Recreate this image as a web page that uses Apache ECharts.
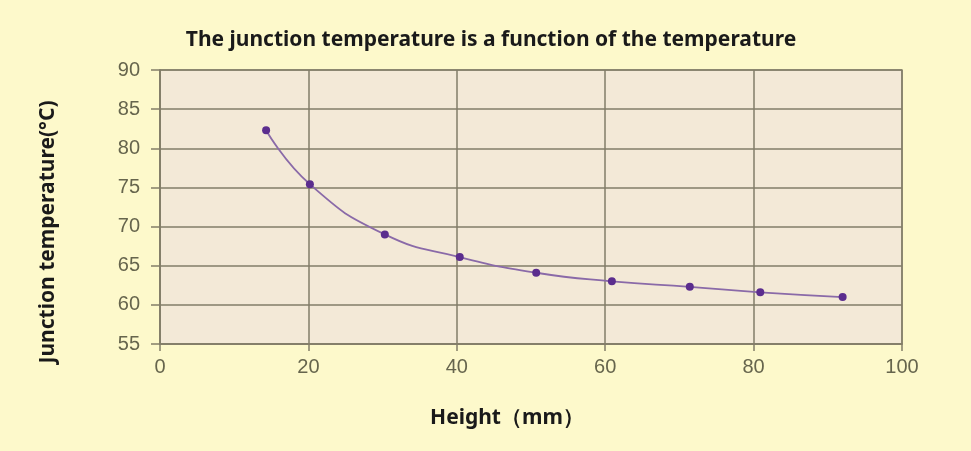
<!DOCTYPE html>
<html>
<head>
<meta charset="utf-8">
<script src="https://cdn.jsdelivr.net/npm/echarts@6/dist/echarts.min.js"></script>
<style>
html,body{margin:0;padding:0;background:#fdf9cb;}
#c{width:971px;height:451px;}
</style>
</head>
<body>
<div id="c"></div>
<script>
const heights = [14.3, 20.2, 30.3, 40.4, 50.7, 60.9, 71.4, 80.9, 92.0];
const junctionTemps = [82.3, 75.4, 69.0, 66.1, 64.1, 63.0, 62.3, 61.6, 61.0];
const xTicks = [0, 20, 40, 60, 80, 100];
const yTicks = [55, 60, 65, 70, 75, 80, 85, 90];
const titleText = 'The junction temperature is a function of the temperature';
const xName = 'Height（mm）';
const yName = 'Junction temperature(°C)';

const chart = echarts.init(document.getElementById('c'));
const gridColor = '#827d68';
const labelColor = '#66654d';
const nameStyle = {fontFamily: 'Noto Sans', fontWeight: 'bold', fontSize: 21, fill: '#1a1a1a'};
chart.setOption({
  backgroundColor: '#fdf9cb',
  animation: false,
  title: {
    text: titleText,
    left: 486, top: 25, textAlign: 'center',
    textStyle: {fontFamily: 'Noto Sans', fontWeight: 'bold', fontSize: 21, color: '#1a1a1a'}
  },
  graphic: [
    {type: 'text', x: 507, y: 418, style: Object.assign({text: xName, textAlign: 'center', textVerticalAlign: 'middle'}, nameStyle)},
    {type: 'text', x: 48, y: 232, rotation: Math.PI / 2, style: Object.assign({text: yName, textAlign: 'center', textVerticalAlign: 'middle'}, nameStyle)}
  ],
  grid: {left: 160, right: 69, top: 70, bottom: 107, show: true, backgroundColor: '#f3e9d7', borderColor: '#8f8a74', borderWidth: 1.5},
  xAxis: {
    type: 'value', min: xTicks[0], max: xTicks[xTicks.length-1], interval: 20,
    axisLine: {show: true, lineStyle: {color: gridColor, width: 1.5}},
    axisTick: {show: true, length: 7, lineStyle: {color: gridColor, width: 1.5}},
    splitLine: {show: true, lineStyle: {color: gridColor, width: 1.5}},
    axisLabel: {margin: 13, fontFamily: 'Liberation Sans', fontSize: 20, color: labelColor}
  },
  yAxis: {
    type: 'value', min: yTicks[0], max: yTicks[yTicks.length-1], interval: 5,
    axisLine: {show: true, lineStyle: {color: gridColor, width: 1.5}},
    axisTick: {show: true, length: 9, lineStyle: {color: gridColor, width: 1.5}},
    splitLine: {show: true, lineStyle: {color: gridColor, width: 1.5}},
    axisLabel: {margin: 20, fontFamily: 'Liberation Sans', fontSize: 20, color: labelColor}
  },
  series: [{
    type: 'line', smooth: true,
    data: heights.map((h, i) => [h, junctionTemps[i]]),
    symbol: 'circle', symbolSize: 8,
    itemStyle: {color: '#5b2d8e'},
    lineStyle: {color: '#8a6aa8', width: 1.8}
  }]
});
</script>
</body>
</html>
